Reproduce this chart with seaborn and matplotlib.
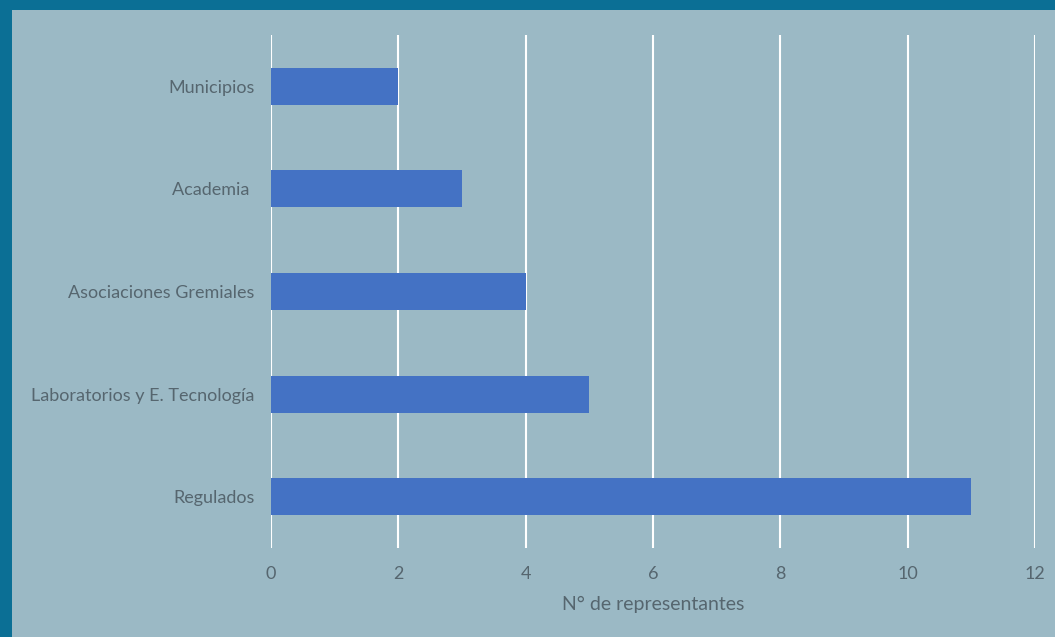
import pandas as pd
import matplotlib
matplotlib.use('Agg')
import matplotlib.pyplot as plt
import seaborn as sns
from matplotlib.patches import Rectangle

# Datos
categorias = ['Municipios', 'Academia ', 'Asociaciones Gremiales',
              'Laboratorios y E. Tecnología', 'Regulados']
representantes = [2, 3, 4, 5, 11]
xticks = [0, 2, 4, 6, 8, 10, 12]

df = pd.DataFrame({'categoria': categorias, 'n': representantes})

bg = '#9bb9c5'
borde = '#0b6f95'
texto = '#56666f'
barra = '#4472c4'

sns.set_style('white')
plt.rcParams['font.family'] = ['Lato', 'DejaVu Sans']

fig = plt.figure(figsize=(10.55, 6.37), dpi=100)
fig.patch.set_facecolor(bg)
ax = fig.add_axes([0.2569, 0.1397, 0.7242, 0.8053])
ax.set_facecolor(bg)

sns.barplot(data=df, x='n', y='categoria', orient='h', color=barra,
            width=0.36, saturation=1, linewidth=0, ax=ax)
for p in ax.patches:
    p.set_zorder(3)
    p.set_edgecolor('none')

ax.set_xlim(0, 12)
ax.set_ylim(4.5, -0.5)
ax.set_xticks(xticks)
ax.grid(axis='x', color='white', linewidth=1.5, zorder=0)
ax.set_axisbelow(True)
for s in ax.spines.values():
    s.set_visible(False)
ax.tick_params(axis='both', length=0, colors=texto, labelsize=13)
ax.tick_params(axis='y', pad=12)
ax.tick_params(axis='x', pad=13)
ax.set_ylabel('')
ax.set_xlabel('N° de representantes', color=texto, fontsize=14, labelpad=10)

# marco oscuro arriba e izquierda
fig.add_artist(Rectangle((0, 1 - 10 / 637), 1, 10 / 637, transform=fig.transFigure,
                         facecolor=borde, edgecolor='none'))
fig.add_artist(Rectangle((0, 0), 12 / 1055, 1, transform=fig.transFigure,
                         facecolor=borde, edgecolor='none'))

plt.savefig('out.png', dpi=100, facecolor=fig.get_facecolor())
plt.close()
